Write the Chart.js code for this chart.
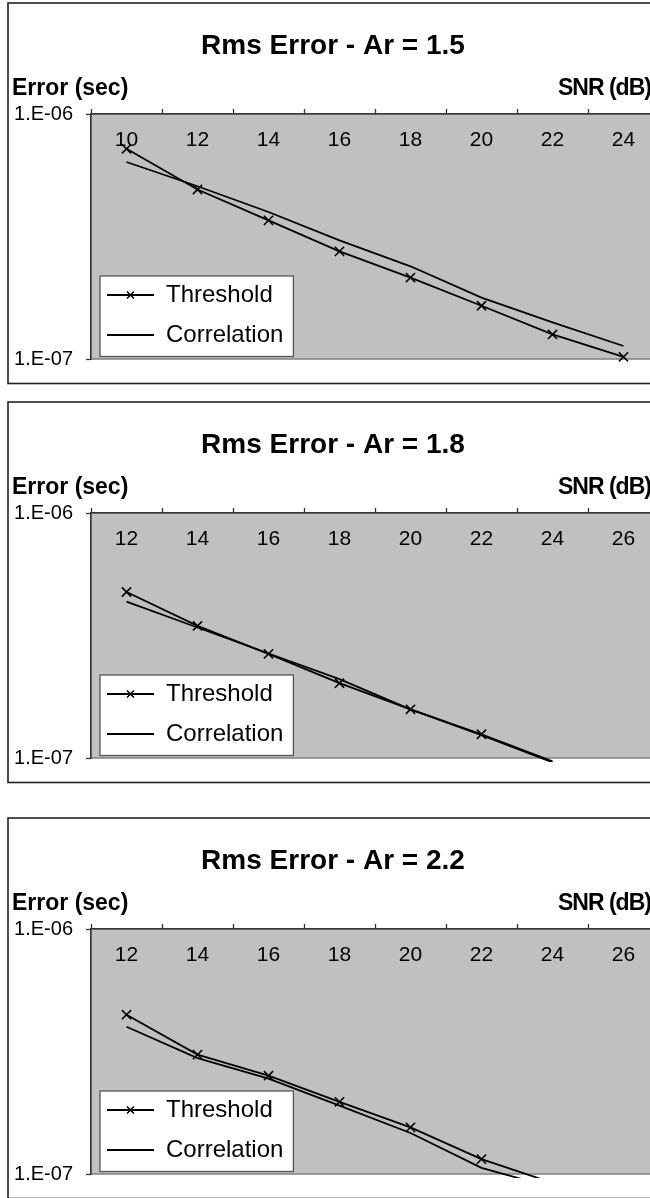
<!DOCTYPE html>
<html>
<head>
<meta charset="utf-8">
<title>Rms Error vs SNR</title>
<script src="https://cdn.jsdelivr.net/npm/chart.js@4.4.1/dist/chart.umd.min.js"></script>
<style>
  html, body { margin: 0; padding: 0; background: #fff; overflow: hidden; width: 650px; height: 1198px; }
  canvas { position: absolute; left: 0; }
</style>
</head>
<body>
<canvas id="c1" width="700" height="392" style="top:0px"></canvas>
<canvas id="c2" width="700" height="392" style="top:399px"></canvas>
<canvas id="c3" width="700" height="392" style="top:815px"></canvas>
<script>
// SNR categories (dB)
const SNR_AR15 = ['10', '12', '14', '16', '18', '20', '22', '24'];
const SNR_AR18 = ['12', '14', '16', '18', '20', '22', '24', '26'];
const SNR_AR22 = ['12', '14', '16', '18', '20', '22', '24', '26'];

// RMS timing error (seconds)
const THRESHOLD_AR15   = [7.21e-7, 4.92e-7, 3.68e-7, 2.75e-7, 2.15e-7, 1.65e-7, 1.26e-7, 1.02e-7];
const CORRELATION_AR15 = [6.37e-7, 5.07e-7, 3.98e-7, 3.05e-7, 2.39e-7, 1.78e-7, 1.41e-7, 1.13e-7];
const THRESHOLD_AR18   = [4.76e-7, 3.46e-7, 2.66e-7, 2.02e-7, 1.58e-7, 1.25e-7, 9.7e-8, null];
const CORRELATION_AR18 = [4.35e-7, 3.41e-7, 2.67e-7, 2.10e-7, 1.58e-7, 1.24e-7, 9.6e-8, null];
const THRESHOLD_AR22   = [4.47e-7, 3.07e-7, 2.52e-7, 1.97e-7, 1.55e-7, 1.15e-7, 9.2e-8, null];
const CORRELATION_AR22 = [3.99e-7, 2.97e-7, 2.45e-7, 1.90e-7, 1.47e-7, 1.06e-7, 8.8e-8, null];

// Log axis range and labelled ticks
const Y_MIN = 1e-7;
const Y_MAX = 1e-6;
const Y_TICKS = [1e-7, 1e-6];

const TITLES = ['Rms Error - Ar = 1.5', 'Rms Error - Ar = 1.8', 'Rms Error - Ar = 2.2'];
const SERIES_NAMES = ['Threshold', 'Correlation'];
const Y_TITLE = 'Error (sec)';
const X_TITLE = 'SNR (dB)';

const FONT = "'Liberation Sans', Arial, Helvetica, sans-serif";
Chart.defaults.font.family = FONT;
Chart.defaults.color = '#000';

// Excel-style scientific label: 1.E-06
function sciLabel(v) {
  const e = Math.round(Math.log10(v));
  const m = Math.round(v / Math.pow(10, e));
  return m + '.E' + (e < 0 ? '-' : '+') + String(Math.abs(e)).padStart(2, '0');
}

// Legend swatch: a short line, optionally with an x marker in the middle
function legendSwatch(withMarker) {
  const c = document.createElement('canvas');
  c.width = 47; c.height = 14;
  const g = c.getContext('2d');
  g.strokeStyle = '#000';
  g.lineWidth = 1.8;
  g.beginPath(); g.moveTo(0, 7); g.lineTo(47, 7); g.stroke();
  if (withMarker) {
    g.lineWidth = 1.5;
    g.beginPath();
    g.moveTo(20, 3.5); g.lineTo(27, 10.5);
    g.moveTo(27, 3.5); g.lineTo(20, 10.5);
    g.stroke();
  }
  return c;
}
const SWATCHES = [legendSwatch(true), legendSwatch(false)];

// Outer frame, grey plot area, white legend panel and axis captions
const framePlugin = {
  id: 'frame',
  afterLayout(chart) {
    // keep the legend inside the plot area so that align:'end' puts it at the bottom
    const lg = chart.legend;
    if (lg) {
      lg.top = chart.chartArea.top;
      lg.bottom = chart.chartArea.bottom + 4;
      lg.height = lg.bottom - lg.top;
    }
  },
  beforeDraw(chart) {
    const ctx = chart.ctx;
    const a = chart.chartArea;
    ctx.save();
    ctx.fillStyle = '#fff';
    ctx.fillRect(0, 0, chart.width, chart.height);
    ctx.strokeStyle = '#222';
    ctx.lineWidth = 1.6;
    ctx.strokeRect(8, 3, 720, 380.5);

    ctx.fillStyle = '#c0c0c0';
    ctx.fillRect(a.left, a.top, a.right - a.left, a.bottom - a.top);
    ctx.strokeStyle = '#808080';
    ctx.lineWidth = 1.5;
    ctx.strokeRect(a.left, a.top, a.right - a.left, a.bottom - a.top);

    const boxes = chart.legend && chart.legend.legendHitBoxes;
    if (boxes && boxes.length) {
      let r = -Infinity, t = Infinity;
      boxes.forEach(b => {
        r = Math.max(r, b.left + b.width);
        t = Math.min(t, b.top);
      });
      const x0 = a.left + 9, y0 = t - 7;
      const x1 = r + 10, y1 = a.bottom - 2.5;
      ctx.fillStyle = '#fff';
      ctx.fillRect(x0, y0, x1 - x0, y1 - y0);
      ctx.strokeStyle = '#555';
      ctx.lineWidth = 1.3;
      ctx.strokeRect(x0, y0, x1 - x0, y1 - y0);
    }
    ctx.restore();
  },
  afterDraw(chart) {
    const ctx = chart.ctx;
    const y = chart.chartArea.top - 25;
    ctx.save();
    ctx.font = 'bold 23px ' + FONT;
    ctx.fillStyle = '#000';
    ctx.textBaseline = 'middle';
    ctx.textAlign = 'left';
    ctx.fillText(Y_TITLE, 12, y);
    ctx.letterSpacing = '-1px';
    ctx.fillText(X_TITLE, 558, y);
    ctx.restore();
  }
};

function makeChart(id, title, categories, threshold, correlation) {
  const common = {
    borderColor: '#000',
    backgroundColor: '#000',
    borderWidth: 1.8,
    tension: 0,
    fill: false,
    clip: { left: 12, top: 12, right: 12, bottom: 4 }
  };
  return new Chart(document.getElementById(id), {
    type: 'line',
    data: {
      labels: categories,
      datasets: [
        Object.assign({}, common, {
          label: SERIES_NAMES[0],
          data: threshold,
          pointStyle: 'crossRot',
          pointRadius: c => (c.raw == null || c.raw < Y_MIN) ? 0 : 6.5,
          pointBorderColor: '#000',
          pointBorderWidth: 1.6
        }),
        Object.assign({}, common, {
          label: SERIES_NAMES[1],
          data: correlation,
          pointRadius: 0
        })
      ]
    },
    options: {
      responsive: false,
      animation: false,
      devicePixelRatio: 1,
      events: [],
      layout: { padding: { left: 7, right: 41, top: 0, bottom: 33 } },
      plugins: {
        title: {
          display: true,
          text: title,
          color: '#000',
          font: { size: 28, weight: 'bold' },
          padding: { top: 29, bottom: 0 }
        },
        legend: {
          position: 'chartArea',
          align: 'end',
          labels: {
            usePointStyle: true,
            pointStyleWidth: 47,
            padding: 16,
            color: '#000',
            font: { size: 24 },
            generateLabels: chart => chart.data.datasets.map((ds, i) => ({
              text: ds.label,
              pointStyle: SWATCHES[i],
              fillStyle: 'transparent',
              strokeStyle: 'transparent',
              lineWidth: 0,
              fontColor: '#000',
              hidden: false,
              datasetIndex: i
            }))
          }
        },
        tooltip: { enabled: false }
      },
      scales: {
        x: {
          type: 'category',
          position: 'top',
          offset: true,
          afterFit: s => { s.height = 51.4; },
          grid: { offset: true, drawOnChartArea: false, drawTicks: true, tickLength: 5, tickColor: '#333', tickWidth: 1.3 },
          border: { color: '#333', width: 1.5 },
          ticks: { mirror: true, padding: 14, maxRotation: 0, autoSkip: false, color: '#000', font: { size: 21 } }
        },
        y: {
          type: 'logarithmic',
          position: 'left',
          min: Y_MIN,
          max: Y_MAX,
          afterBuildTicks: s => { s.ticks = Y_TICKS.map(v => ({ value: v })); },
          afterFit: s => { s.width = 84; },
          grid: { drawOnChartArea: false, drawTicks: true, tickLength: 5, tickColor: '#333', tickWidth: 1.3 },
          border: { color: '#333', width: 1.5 },
          ticks: { padding: 13, color: '#000', font: { size: 20 }, callback: v => sciLabel(v) }
        }
      }
    },
    plugins: [framePlugin]
  });
}

makeChart('c1', TITLES[0], SNR_AR15, THRESHOLD_AR15, CORRELATION_AR15);
makeChart('c2', TITLES[1], SNR_AR18, THRESHOLD_AR18, CORRELATION_AR18);
makeChart('c3', TITLES[2], SNR_AR22, THRESHOLD_AR22, CORRELATION_AR22);
</script>
</body>
</html>
